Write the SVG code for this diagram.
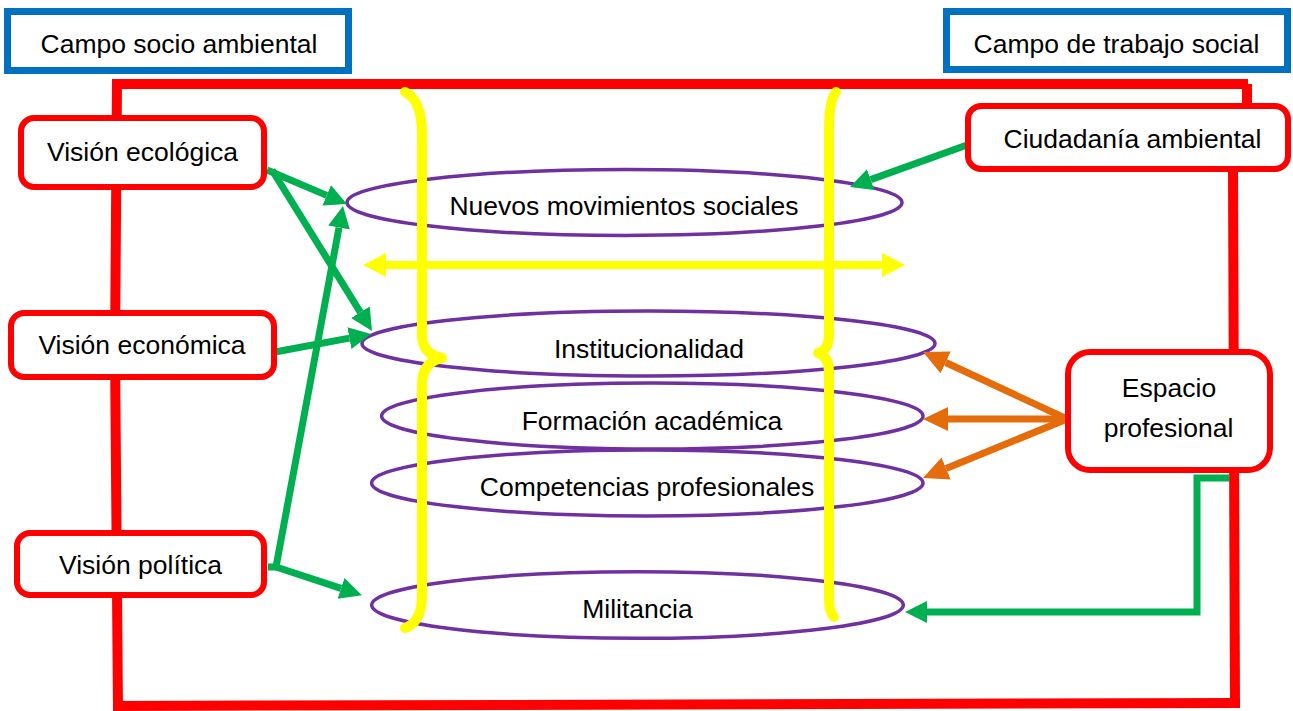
<svg xmlns="http://www.w3.org/2000/svg" width="1293" height="711" viewBox="0 0 1293 711">
<style>
text{font-family:"Liberation Sans",Arial,sans-serif;font-size:26.5px;fill:#000;text-anchor:middle}
.blue{fill:#fff;stroke:#0070C0;stroke-width:7}
.rbox{fill:#fff;stroke:#FF0000;stroke-width:6}
.frame{fill:none;stroke:#FF0000;stroke-width:10;stroke-linejoin:miter}
.ell{fill:none;stroke:#7030A0;stroke-width:3.5}
.brace{fill:none;stroke:#FFFF00;stroke-width:10;stroke-linecap:round;stroke-linejoin:round}
.g{fill:none;stroke:#00B050;stroke-width:7}
.o{fill:none;stroke:#E46C0A;stroke-width:7}
.y{fill:none;stroke:#FFFF00;stroke-width:8}
</style>
<defs>
<marker id="ag" viewBox="0 0 22 22" refX="0" refY="11" markerWidth="22" markerHeight="22" markerUnits="userSpaceOnUse" orient="auto"><path d="M0,0 L22,11 L0,22 Z" fill="#00B050"/></marker>
<marker id="ao" viewBox="0 0 25 24" refX="0" refY="12" markerWidth="25" markerHeight="24" markerUnits="userSpaceOnUse" orient="auto"><path d="M0,0 L25,12 L0,24 Z" fill="#E46C0A"/></marker>
<marker id="ay" viewBox="0 0 23 24" refX="0" refY="12" markerWidth="23" markerHeight="24" markerUnits="userSpaceOnUse" orient="auto-start-reverse"><path d="M0,0 L23,12 L0,24 Z" fill="#FFFF00"/></marker>
</defs>

<g id="frame">
<path class="frame" d="M112,84 L1248,84"/>
<path class="frame" d="M1247,84 L1247,110"/>
<path class="frame" d="M117,80 L115,350 L118,710"/>
<path class="frame" d="M113,706 L1240,703"/>
<path class="frame" d="M1233,168 L1235,708"/>
</g>

<g id="campo-socio"><rect class="blue" x="7.5" y="11.5" width="341" height="59"/><text x="179" y="53">Campo socio ambiental</text></g>
<g id="campo-trabajo"><rect class="blue" x="946.5" y="11.5" width="341" height="58"/><text x="1116.5" y="53">Campo de trabajo social</text></g>

<g id="ellipses">
<g id="nuevos"><ellipse class="ell" cx="624.5" cy="202.5" rx="277.5" ry="33"/><text x="624" y="215">Nuevos movimientos sociales</text></g>
<g id="institucionalidad"><ellipse class="ell" cx="648.5" cy="343.5" rx="286.5" ry="32.5"/><text x="649" y="357.5">Institucionalidad</text></g>
<g id="formacion"><ellipse class="ell" cx="652.3" cy="416" rx="270.7" ry="33"/><text x="652" y="430">Formación académica</text></g>
<g id="competencias"><ellipse class="ell" cx="647.3" cy="483" rx="275.7" ry="33"/><text x="647" y="496">Competencias profesionales</text></g>
<g id="militancia"><ellipse class="ell" cx="637.5" cy="605" rx="265.8" ry="33.3"/><text x="637.5" y="618">Militancia</text></g>
</g>

<g id="braces">
<path class="brace" d="M405,92 Q422,100 422,135 L422,335 Q422,354 442,358 Q422,362 422,385 L422,595 Q422,622 405,628"/>
<path class="brace" d="M836,92 Q829,100 829,130 L829,335 Q829,350 818,353 Q829,356 829,372 L829,598 Q829,612 834,617"/>
</g>

<g id="connectors">
<path class="y" d="M386,265 L882,265" marker-start="url(#ay)" marker-end="url(#ay)"/>
<path class="g" d="M267,170 L326.7,195.4" marker-end="url(#ag)"/>
<path class="g" d="M272,170 L360.4,312.3" marker-end="url(#ag)"/>
<path class="g" d="M275,352 L349.4,338.1" marker-end="url(#ag)"/>
<path class="g" d="M268,567 L276,567 L339,227.6" marker-end="url(#ag)"/>
<path class="g" d="M276,567 L341,588.4" marker-end="url(#ag)"/>
<path class="g" d="M967,145 L870.7,179.6" marker-end="url(#ag)"/>
<path class="g" d="M1229,478 L1197,478 L1197,612 L927,612" marker-end="url(#ag)"/>
<path class="o" d="M1067,419 L945.7,362.5" marker-end="url(#ao)"/>
<path class="o" d="M1067,419 L948,419" marker-end="url(#ao)"/>
<path class="o" d="M1067,419 L946.1,468.5" marker-end="url(#ao)"/>
</g>

<g id="vision-ecologica"><rect class="rbox" x="21" y="118" width="243" height="69" rx="13"/><text x="142.5" y="161">Visión ecológica</text></g>
<g id="vision-economica"><rect class="rbox" x="11" y="313" width="263" height="64" rx="13"/><text x="142" y="354">Visión económica</text></g>
<g id="vision-politica"><rect class="rbox" x="17" y="533" width="247" height="62" rx="13"/><text x="140.5" y="574">Visión política</text></g>
<g id="ciudadania"><rect class="rbox" x="968" y="106" width="320" height="63" rx="13"/><text x="1132.5" y="148">Ciudadanía ambiental</text></g>
<g id="espacio"><rect class="rbox" x="1068" y="352" width="202" height="118" rx="22"/><text x="1169" y="397">Espacio</text><text x="1168.5" y="437">profesional</text></g>
</svg>
